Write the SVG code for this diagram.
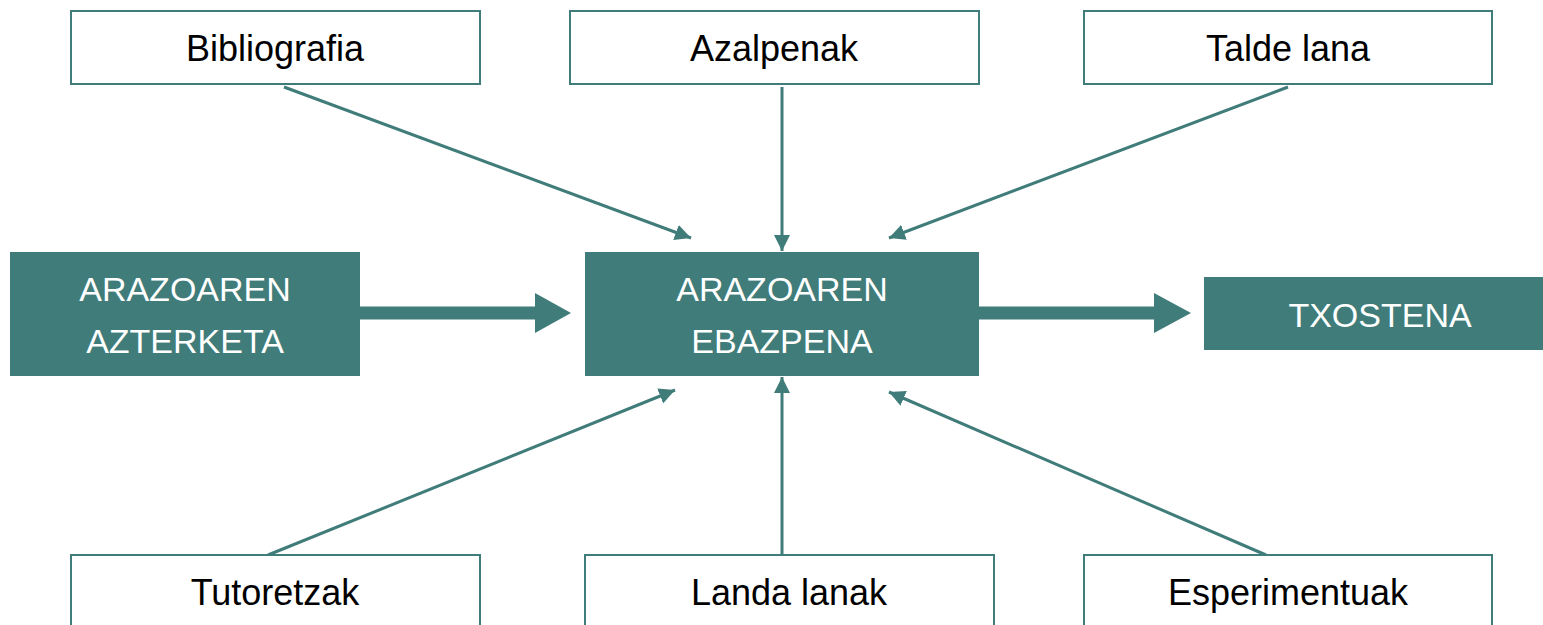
<svg xmlns="http://www.w3.org/2000/svg" width="1543" height="625" viewBox="0 0 1543 625">
<style>
.box{fill:#fff;stroke:#3F7C7A;stroke-width:2}
.dark{fill:#3F7C7A}
.t{font-family:"Liberation Sans",Arial,sans-serif;font-size:36px;fill:#000;text-anchor:middle}
.w{font-family:"Liberation Sans",Arial,sans-serif;font-size:34px;fill:#fff;text-anchor:middle}
.ln{stroke:#3F7C7A;stroke-width:3;fill:none;marker-end:url(#ah)}
.thick{stroke:#3F7C7A;stroke-width:13;fill:none}
</style>
<defs>
<marker id="ah" markerUnits="userSpaceOnUse" markerWidth="18" markerHeight="16" refX="16" refY="8" orient="auto">
<path d="M0,0 L16,8 L0,16 z" fill="#3F7C7A"/>
</marker>
</defs>
<rect width="1543" height="625" fill="#fff"/>
<g id="connectors">
<line class="ln" x1="284" y1="87" x2="691" y2="238"/>
<line class="ln" x1="782" y1="87" x2="782" y2="251"/>
<line class="ln" x1="1288" y1="87" x2="889" y2="238"/>
<line class="ln" x1="268" y1="555" x2="675" y2="390"/>
<line class="ln" x1="782" y1="555" x2="782" y2="377"/>
<line class="ln" x1="1266" y1="555" x2="889" y2="392"/>
<line class="thick" x1="360" y1="313" x2="537" y2="313"/>
<path d="M535,293 L571,313 L535,333 z" fill="#3F7C7A"/>
<line class="thick" x1="979" y1="313" x2="1156" y2="313"/>
<path d="M1154,293 L1191,313 L1154,333 z" fill="#3F7C7A"/>
</g>
<g id="bibliografia"><rect class="box" x="71" y="11" width="409" height="73"/><text class="t" x="275" y="61">Bibliografia</text></g>
<g id="azalpenak"><rect class="box" x="570" y="11" width="409" height="73"/><text class="t" x="774" y="61">Azalpenak</text></g>
<g id="talde-lana"><rect class="box" x="1084" y="11" width="408" height="73"/><text class="t" x="1288" y="61">Talde lana</text></g>
<g id="azterketa"><rect class="dark" x="10" y="252" width="350" height="124"/><text class="w" x="185" y="301">ARAZOAREN</text><text class="w" x="185" y="353">AZTERKETA</text></g>
<g id="ebazpena"><rect class="dark" x="585" y="252" width="394" height="124"/><text class="w" x="782" y="301">ARAZOAREN</text><text class="w" x="782" y="353">EBAZPENA</text></g>
<g id="txostena"><rect class="dark" x="1204" y="277" width="339" height="73"/><text class="w" x="1380" y="327">TXOSTENA</text></g>
<g id="tutoretzak"><rect class="box" x="71" y="555" width="409" height="100"/><text class="t" x="275" y="605">Tutoretzak</text></g>
<g id="landa-lanak"><rect class="box" x="585" y="555" width="409" height="100"/><text class="t" x="789" y="605">Landa lanak</text></g>
<g id="esperimentuak"><rect class="box" x="1084" y="555" width="408" height="100"/><text class="t" x="1288" y="605">Esperimentuak</text></g>
</svg>
